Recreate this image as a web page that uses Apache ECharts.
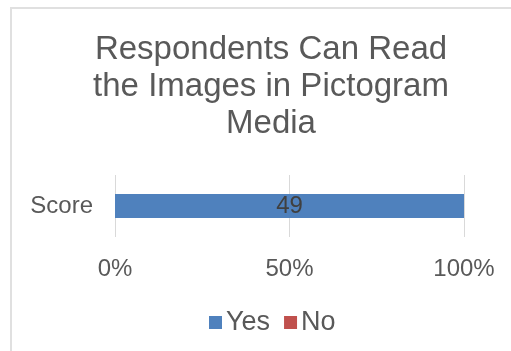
<!DOCTYPE html>
<html>
<head>
<meta charset="utf-8">
<script src="https://cdn.jsdelivr.net/npm/echarts@6/dist/echarts.min.js"></script>
<style>
  html, body { margin: 0; padding: 0; background: #fff; }
  #chart { width: 511px; height: 351px; }
</style>
</head>
<body>
<div id="chart"></div>
<script>
var categories = ['Score'];
var yesValues = [49];
var noValues = [0];
var tickValues = [0, 50, 100];

var font = '"Liberation Sans", Arial, sans-serif';
var text = '#595959';

// 100% stacked: share of each row
function share(arr, i) {
  var total = yesValues[i] + noValues[i];
  return total ? arr[i] / total * 100 : 0;
}

var chart = echarts.init(document.getElementById('chart'), null, { renderer: 'canvas' });

chart.setOption({
  backgroundColor: '#fff',
  animation: false,
  graphic: [{
    type: 'rect',
    shape: { x: 11, y: 8, width: 600, height: 400 },
    style: { fill: 'none', stroke: '#e0e0e0', lineWidth: 2 },
    silent: true
  }],
  title: {
    text: 'Respondents Can Read\nthe Images in Pictogram\nMedia',
    left: 266,
    textAlign: 'center',
    top: 26,
    textStyle: {
      color: text, fontFamily: font, fontSize: 33, fontWeight: 'normal', lineHeight: 37
    }
  },
  legend: {
    top: 304,
    left: 204,
    itemWidth: 13,
    itemHeight: 13,
    itemGap: 14,
    icon: 'rect',
    textStyle: { color: text, fontFamily: font, fontSize: 27, padding: [0, 0, 0, -1] },
    data: ['Yes', 'No']
  },
  grid: {
    left: 115,
    right: 47,
    top: 175,
    bottom: 114,
    outerBoundsMode: 'none'
  },
  xAxis: {
    type: 'value',
    min: tickValues[0],
    max: tickValues[tickValues.length - 1],
    interval: 50,
    axisLine: { show: false },
    axisTick: { show: false },
    axisLabel: {
      color: text, fontFamily: font, fontSize: 24, margin: 20,
      formatter: '{value}%'
    },
    splitLine: { lineStyle: { color: '#d9d9d9', width: 1 } }
  },
  yAxis: {
    type: 'category',
    data: categories,
    axisLine: { show: false },
    axisTick: { show: false },
    axisLabel: { color: text, fontFamily: font, fontSize: 24, margin: 22 }
  },
  series: [{
    name: 'Yes',
    type: 'bar',
    stack: 'total',
    barWidth: 24,
    itemStyle: { color: '#4f81bd' },
    label: {
      show: true,
      position: 'inside',
      color: '#404040',
      fontFamily: font,
      fontSize: 24,
      formatter: function (p) { return yesValues[p.dataIndex]; }
    },
    data: yesValues.map(function (v, i) { return share(yesValues, i); })
  }, {
    name: 'No',
    type: 'bar',
    stack: 'total',
    barWidth: 24,
    itemStyle: { color: '#c0504d' },
    label: {
      show: true,
      position: 'inside',
      color: '#404040',
      fontFamily: font,
      fontSize: 24,
      formatter: function (p) { return noValues[p.dataIndex] ? noValues[p.dataIndex] : ''; }
    },
    data: noValues.map(function (v, i) { return share(noValues, i); })
  }]
});

window.addEventListener('resize', function () {
  chart.resize();
});
</script>
</body>
</html>
